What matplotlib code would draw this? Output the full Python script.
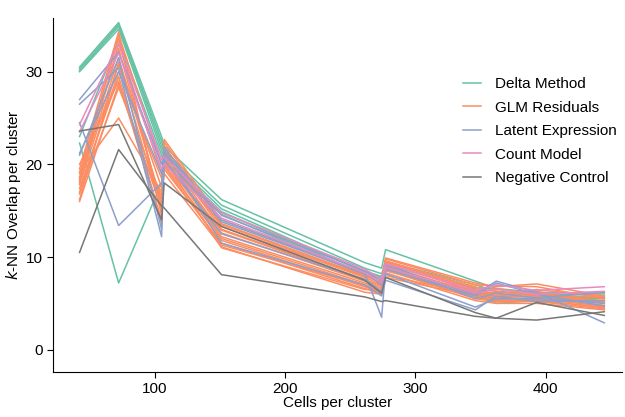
import numpy as np
import matplotlib
matplotlib.use("Agg")
import matplotlib.pyplot as plt

plt.rcParams['font.family'] = ['Liberation Sans', 'DejaVu Sans']
plt.rcParams['mathtext.fontset'] = 'dejavusans'

# cells per cluster (shared grid)
cells = [42, 72, 105, 107, 151, 261, 274, 277, 346, 362, 393, 445]

delta = [
    [30.5, 35.3, 23.0, 22.0, 16.2, 9.4, 8.8, 10.8, 7.4, 6.6, 6.2, 6.1],
    [30.3, 35.1, 22.5, 21.5, 15.6, 8.8, 8.2, 9.5, 7.0, 6.3, 6.0, 5.9],
    [30.1, 34.9, 22.0, 21.2, 15.2, 8.4, 7.8, 9.2, 6.6, 5.7, 5.8, 5.6],
    [30.0, 34.6, 21.5, 20.8, 14.9, 8.1, 7.6, 8.9, 6.0, 5.5, 5.6, 5.5],
    [22.3, 7.2, 18.0, 20.5, 14.6, 8.0, 7.2, 8.6, 5.7, 5.2, 5.4, 5.2],
    [23.0, 33.5, 21.0, 20.0, 14.8, 8.5, 7.9, 8.8, 6.2, 5.0, 5.3, 5.6],
]
glm = [
    [19.5, 34.3, 14.5, 22.7, 14.0, 8.2, 7.6, 9.9, 7.2, 6.8, 7.1, 5.8],
    [19.0, 33.6, 15.0, 22.4, 13.6, 8.0, 7.3, 9.8, 7.0, 6.9, 6.8, 5.5],
    [18.6, 32.5, 15.5, 22.0, 13.3, 7.8, 7.0, 9.6, 6.7, 6.6, 6.0, 5.6],
    [18.2, 31.5, 16.0, 21.6, 13.0, 7.6, 6.8, 9.5, 6.5, 6.3, 5.8, 5.3],
    [17.8, 30.8, 15.0, 21.2, 12.6, 7.4, 6.6, 9.3, 6.3, 6.0, 5.9, 5.0],
    [17.4, 29.5, 14.0, 20.8, 12.2, 7.2, 6.4, 9.1, 6.1, 5.8, 5.7, 4.8],
    [20.0, 29.0, 13.6, 20.5, 12.0, 7.0, 6.2, 9.0, 5.9, 5.6, 5.5, 4.7],
    [16.0, 28.7, 15.2, 20.0, 11.8, 6.8, 6.1, 8.8, 5.7, 5.4, 5.3, 4.6],
    [16.8, 28.3, 16.5, 19.5, 11.5, 6.6, 6.0, 8.6, 5.5, 5.2, 5.2, 4.4],
    [19.2, 25.0, 17.0, 19.0, 11.1, 6.2, 6.0, 8.3, 5.3, 5.0, 5.0, 4.3],
    [18.0, 33.0, 19.0, 21.0, 13.5, 7.9, 7.4, 9.4, 6.8, 5.7, 6.5, 5.7],
    [17.0, 30.0, 18.5, 20.3, 12.9, 7.5, 6.9, 8.5, 6.4, 5.5, 6.3, 5.0],
    [16.2, 31.0, 17.5, 19.8, 11.3, 6.9, 6.3, 7.8, 5.8, 5.3, 5.4, 4.5],
    [18.4, 34.0, 20.0, 20.5, 11.0, 6.5, 6.5, 8.0, 6.0, 6.2, 6.0, 5.2],
]
latent = [
    [27.0, 32.1, 20.0, 21.3, 14.5, 8.5, 7.5, 9.0, 6.0, 7.4, 6.2, 2.9],
    [26.5, 30.4, 12.2, 21.0, 13.8, 8.2, 3.5, 8.7, 5.8, 7.2, 6.0, 4.7],
    [24.5, 13.4, 18.0, 20.5, 12.5, 7.6, 6.3, 8.2, 4.6, 5.5, 5.5, 5.0],
    [21.2, 30.0, 19.0, 21.5, 11.5, 7.0, 5.8, 7.5, 4.3, 5.8, 5.2, 5.3],
    [21.0, 31.5, 13.0, 21.8, 14.0, 8.3, 7.0, 9.3, 5.5, 6.1, 5.6, 6.2],
]
count = [
    [24.3, 33.1, 20.5, 20.8, 14.8, 8.7, 7.6, 9.3, 6.4, 7.0, 6.4, 6.8],
    [23.5, 32.0, 19.5, 20.0, 14.2, 8.3, 7.2, 8.9, 6.1, 6.5, 6.0, 6.3],
]
negative = [
    [23.6, 24.3, 14.0, 18.0, 13.3, 7.5, 6.1, 7.8, 4.0, 3.4, 5.1, 3.7],
    [10.5, 21.6, 15.5, 15.3, 8.1, 5.7, 5.2, 5.3, 3.6, 3.4, 3.2, 4.1],
]

methods = ['Delta Method', 'GLM Residuals', 'Latent Expression', 'Count Model', 'Negative Control']
series = [delta, glm, latent, count, negative]
colors = ['#66c2a5', '#fc8d62', '#8da0cb', '#e78ac3', '#777777']

fig = plt.figure(figsize=(6.25, 4.17), dpi=100)
ax = fig.add_axes([0.085, 0.108, 0.91, 0.849])

for name, lines, col in zip(methods, series, colors):
    for i, ys in enumerate(lines):
        ax.plot(cells, ys, color=col, lw=1.1, label=name if i == 0 else None)

ax.set_xlim(21.7, 458.5)
ax.set_ylim(-2.4, 35.8)
ax.set_xticks([100, 200, 300, 400])
ax.set_yticks([0, 10, 20, 30])
ax.spines['top'].set_visible(False)
ax.spines['right'].set_visible(False)
ax.tick_params(direction='out', length=4, labelsize=11)
ax.set_xlabel('Cells per cluster', fontsize=11, labelpad=0)
ax.set_ylabel('$k$-NN Overlap per cluster', fontsize=11, labelpad=2)

fig.legend(loc='upper left', bbox_to_anchor=(0.718, 0.848), frameon=False,
           fontsize=11, handlelength=1.2, handletextpad=0.9, labelspacing=0.62)

fig.savefig('out.png', dpi=100)
